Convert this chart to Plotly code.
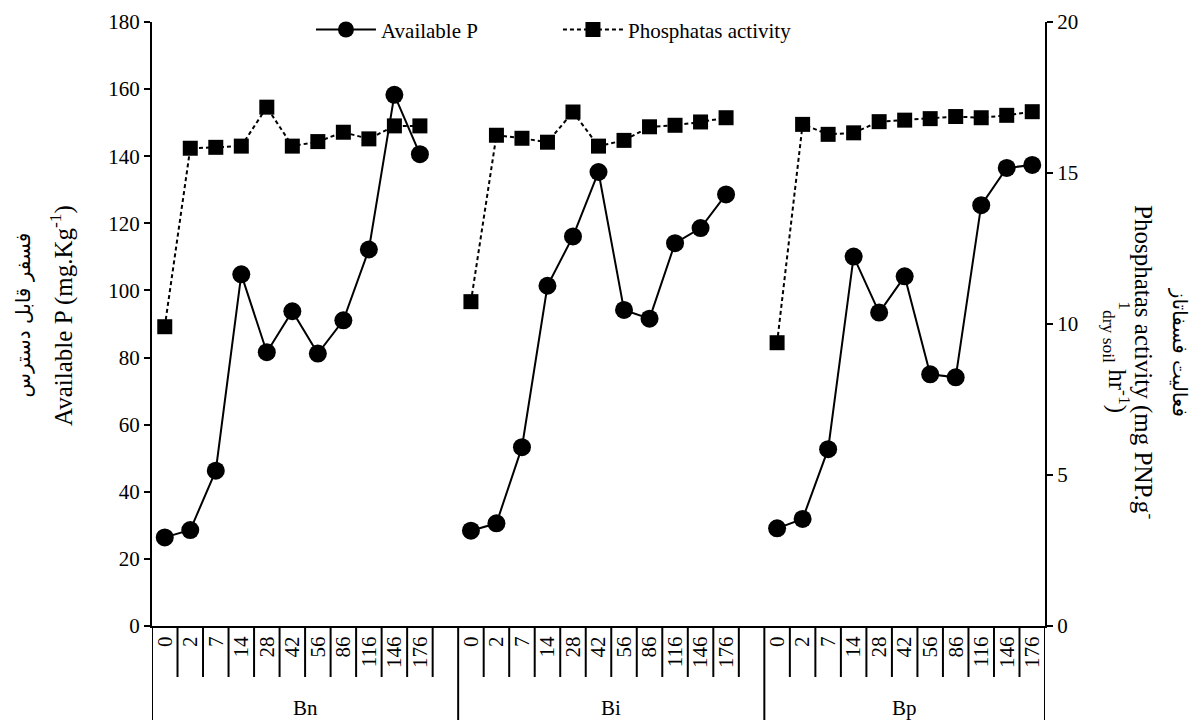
import plotly.graph_objects as go

# ---------------- data ----------------
days = ["0", "2", "7", "14", "28", "42", "56", "86", "116", "146", "176"]
groups = ["Bn", "Bi", "Bp"]

avail_bn = [26.4, 28.6, 46.3, 104.8, 81.6, 93.8, 81.2, 91.1, 112.2, 158.3, 140.6]
avail_bi = [28.4, 30.6, 53.3, 101.4, 116.1, 135.3, 94.2, 91.6, 114.1, 118.6, 128.6]
avail_bp = [29.1, 31.9, 52.7, 110.1, 93.4, 104.2, 75.0, 74.1, 125.4, 136.5, 137.4]

phos_bn = [9.91, 15.82, 15.85, 15.89, 17.18, 15.89, 16.04, 16.35, 16.13, 16.56, 16.56]
phos_bi = [10.74, 16.25, 16.15, 16.02, 17.02, 15.89, 16.08, 16.53, 16.58, 16.69, 16.83]
phos_bp = [9.38, 16.61, 16.28, 16.33, 16.70, 16.75, 16.80, 16.87, 16.83, 16.91, 17.03]

avail = [avail_bn, avail_bi, avail_bp]
phos = [phos_bn, phos_bi, phos_bp]

# ---------------- build positions (11 slots + 1 blank slot per group) ----------------
slot = len(days) + 1
xs, ya, yp, tickvals, ticktext = [], [], [], [], []
for g in range(len(groups)):
    for i, d in enumerate(days):
        x = g * slot + i
        xs.append(x)
        ya.append(avail[g][i])
        yp.append(phos[g][i])
        tickvals.append(x)
        ticktext.append(d)
    if g < len(groups) - 1:
        xs.append(g * slot + len(days))
        ya.append(None)
        yp.append(None)

xmax = (len(groups) - 1) * slot + len(days) - 1

SERIF = "Liberation Serif, Times New Roman, serif"
PERS = "DejaVu Sans, Noto Sans, sans-serif"

fig = go.Figure()
fig.add_trace(go.Scatter(
    x=xs, y=ya, name="Available P", mode="lines+markers",
    line=dict(color="black", width=2),
    marker=dict(symbol="circle", size=18, color="black"),
    connectgaps=False,
))
fig.add_trace(go.Scatter(
    x=xs, y=yp, name="Phosphatas activity", mode="lines+markers", yaxis="y2",
    line=dict(color="black", width=2, dash="4px,3px"),
    marker=dict(symbol="square", size=15, color="black"),
    connectgaps=False,
))

# ---------------- separators under the x axis ----------------
shapes = []
for g in range(len(groups)):
    for i in range(len(days)):
        xb = g * slot + i + 0.5
        if g == len(groups) - 1 and i == len(days) - 1:
            continue
        shapes.append(dict(type="line", xref="x", yref="paper", x0=xb, x1=xb,
                           y0=0, y1=-0.0844, line=dict(color="black", width=2)))
bounds = [-0.5] + [g * slot + len(days) + 0.5 for g in range(len(groups) - 1)] + [xmax + 0.5]
for xb in bounds:
    shapes.append(dict(type="line", xref="x", yref="paper", x0=xb, x1=xb,
                       y0=0, y1=-0.2, line=dict(color="black", width=2)))

annotations = []
for g, name in enumerate(groups):
    x0 = bounds[g]
    x1 = bounds[g + 1]
    annotations.append(dict(text=name, xref="x", yref="paper", x=(x0 + x1) / 2, y=-0.1357,
                            showarrow=False, xanchor="center", yanchor="middle",
                            font=dict(family=SERIF, size=21, color="black")))

# axis titles
annotations += [
    dict(text="Available P (mg.Kg<sup>-1</sup>)", xref="paper", yref="paper",
         x=-0.1008, y=0.515, textangle=-90, showarrow=False,
         xanchor="center", yanchor="middle",
         font=dict(family=SERIF, size=25, color="black")),
    dict(text="فسفر قابل دسترس", xref="paper", yref="paper",
         x=-0.145, y=0.515, textangle=-90, showarrow=False,
         xanchor="center", yanchor="middle",
         font=dict(family=PERS, size=20, color="black")),
    dict(text="فعالیت فسفاتاز", xref="paper", yref="paper",
         x=1.1512, y=0.454, textangle=90, showarrow=False,
         xanchor="center", yanchor="middle",
         font=dict(family=PERS, size=20, color="black")),
    dict(text="Phosphatas activity (mg PNP.g<sup>-</sup>", xref="paper", yref="paper",
         x=1.112, y=0.437, textangle=90, showarrow=False,
         xanchor="center", yanchor="middle",
         font=dict(family=SERIF, size=25, color="black")),
    dict(text="<sup>1</sup><sub>dry soil</sub> hr<sup>-1</sup>)", xref="paper", yref="paper",
         x=1.0806, y=0.445, textangle=90, showarrow=False,
         xanchor="center", yanchor="middle",
         font=dict(family=SERIF, size=25, color="black")),
]

# the page body has an 8px margin, so the figure is shrunk/offset accordingly
fig.update_layout(
    template="none",
    width=1191, height=712,
    margin=dict(l=144, r=154, t=14, b=94, autoexpand=False),
    paper_bgcolor="white", plot_bgcolor="white",
    font=dict(family=SERIF, size=21, color="black"),
    showlegend=True,
    legend=dict(orientation="h", x=0.178, y=0.987, xanchor="left", yanchor="middle",
                bgcolor="rgba(0,0,0,0)", font=dict(family=SERIF, size=21, color="black"),
                itemwidth=60, entrywidth=172, entrywidthmode="pixels", traceorder="normal"),
    xaxis=dict(range=[-0.5, xmax + 0.5], tickvals=tickvals, ticktext=ticktext,
               tickangle=-90, ticks="", showline=True, linecolor="black", linewidth=2,
               showgrid=False, zeroline=False, automargin=False,
               tickfont=dict(family=SERIF, size=21, color="black")),
    yaxis=dict(range=[0, 180], dtick=20, ticks="outside", ticklen=6, tickwidth=2,
               tickcolor="black", showline=True, linecolor="black", linewidth=2,
               showgrid=False, zeroline=False, automargin=False,
               tickfont=dict(family=SERIF, size=21, color="black")),
    yaxis2=dict(range=[0, 20], dtick=5, overlaying="y", side="right", ticks="outside",
                ticklen=6, tickwidth=2, tickcolor="black", showline=True, linecolor="black",
                linewidth=2, showgrid=False, zeroline=False, automargin=False,
                tickfont=dict(family=SERIF, size=21, color="black")),
    shapes=shapes,
    annotations=annotations,
)

fig.write_html("out.html")
